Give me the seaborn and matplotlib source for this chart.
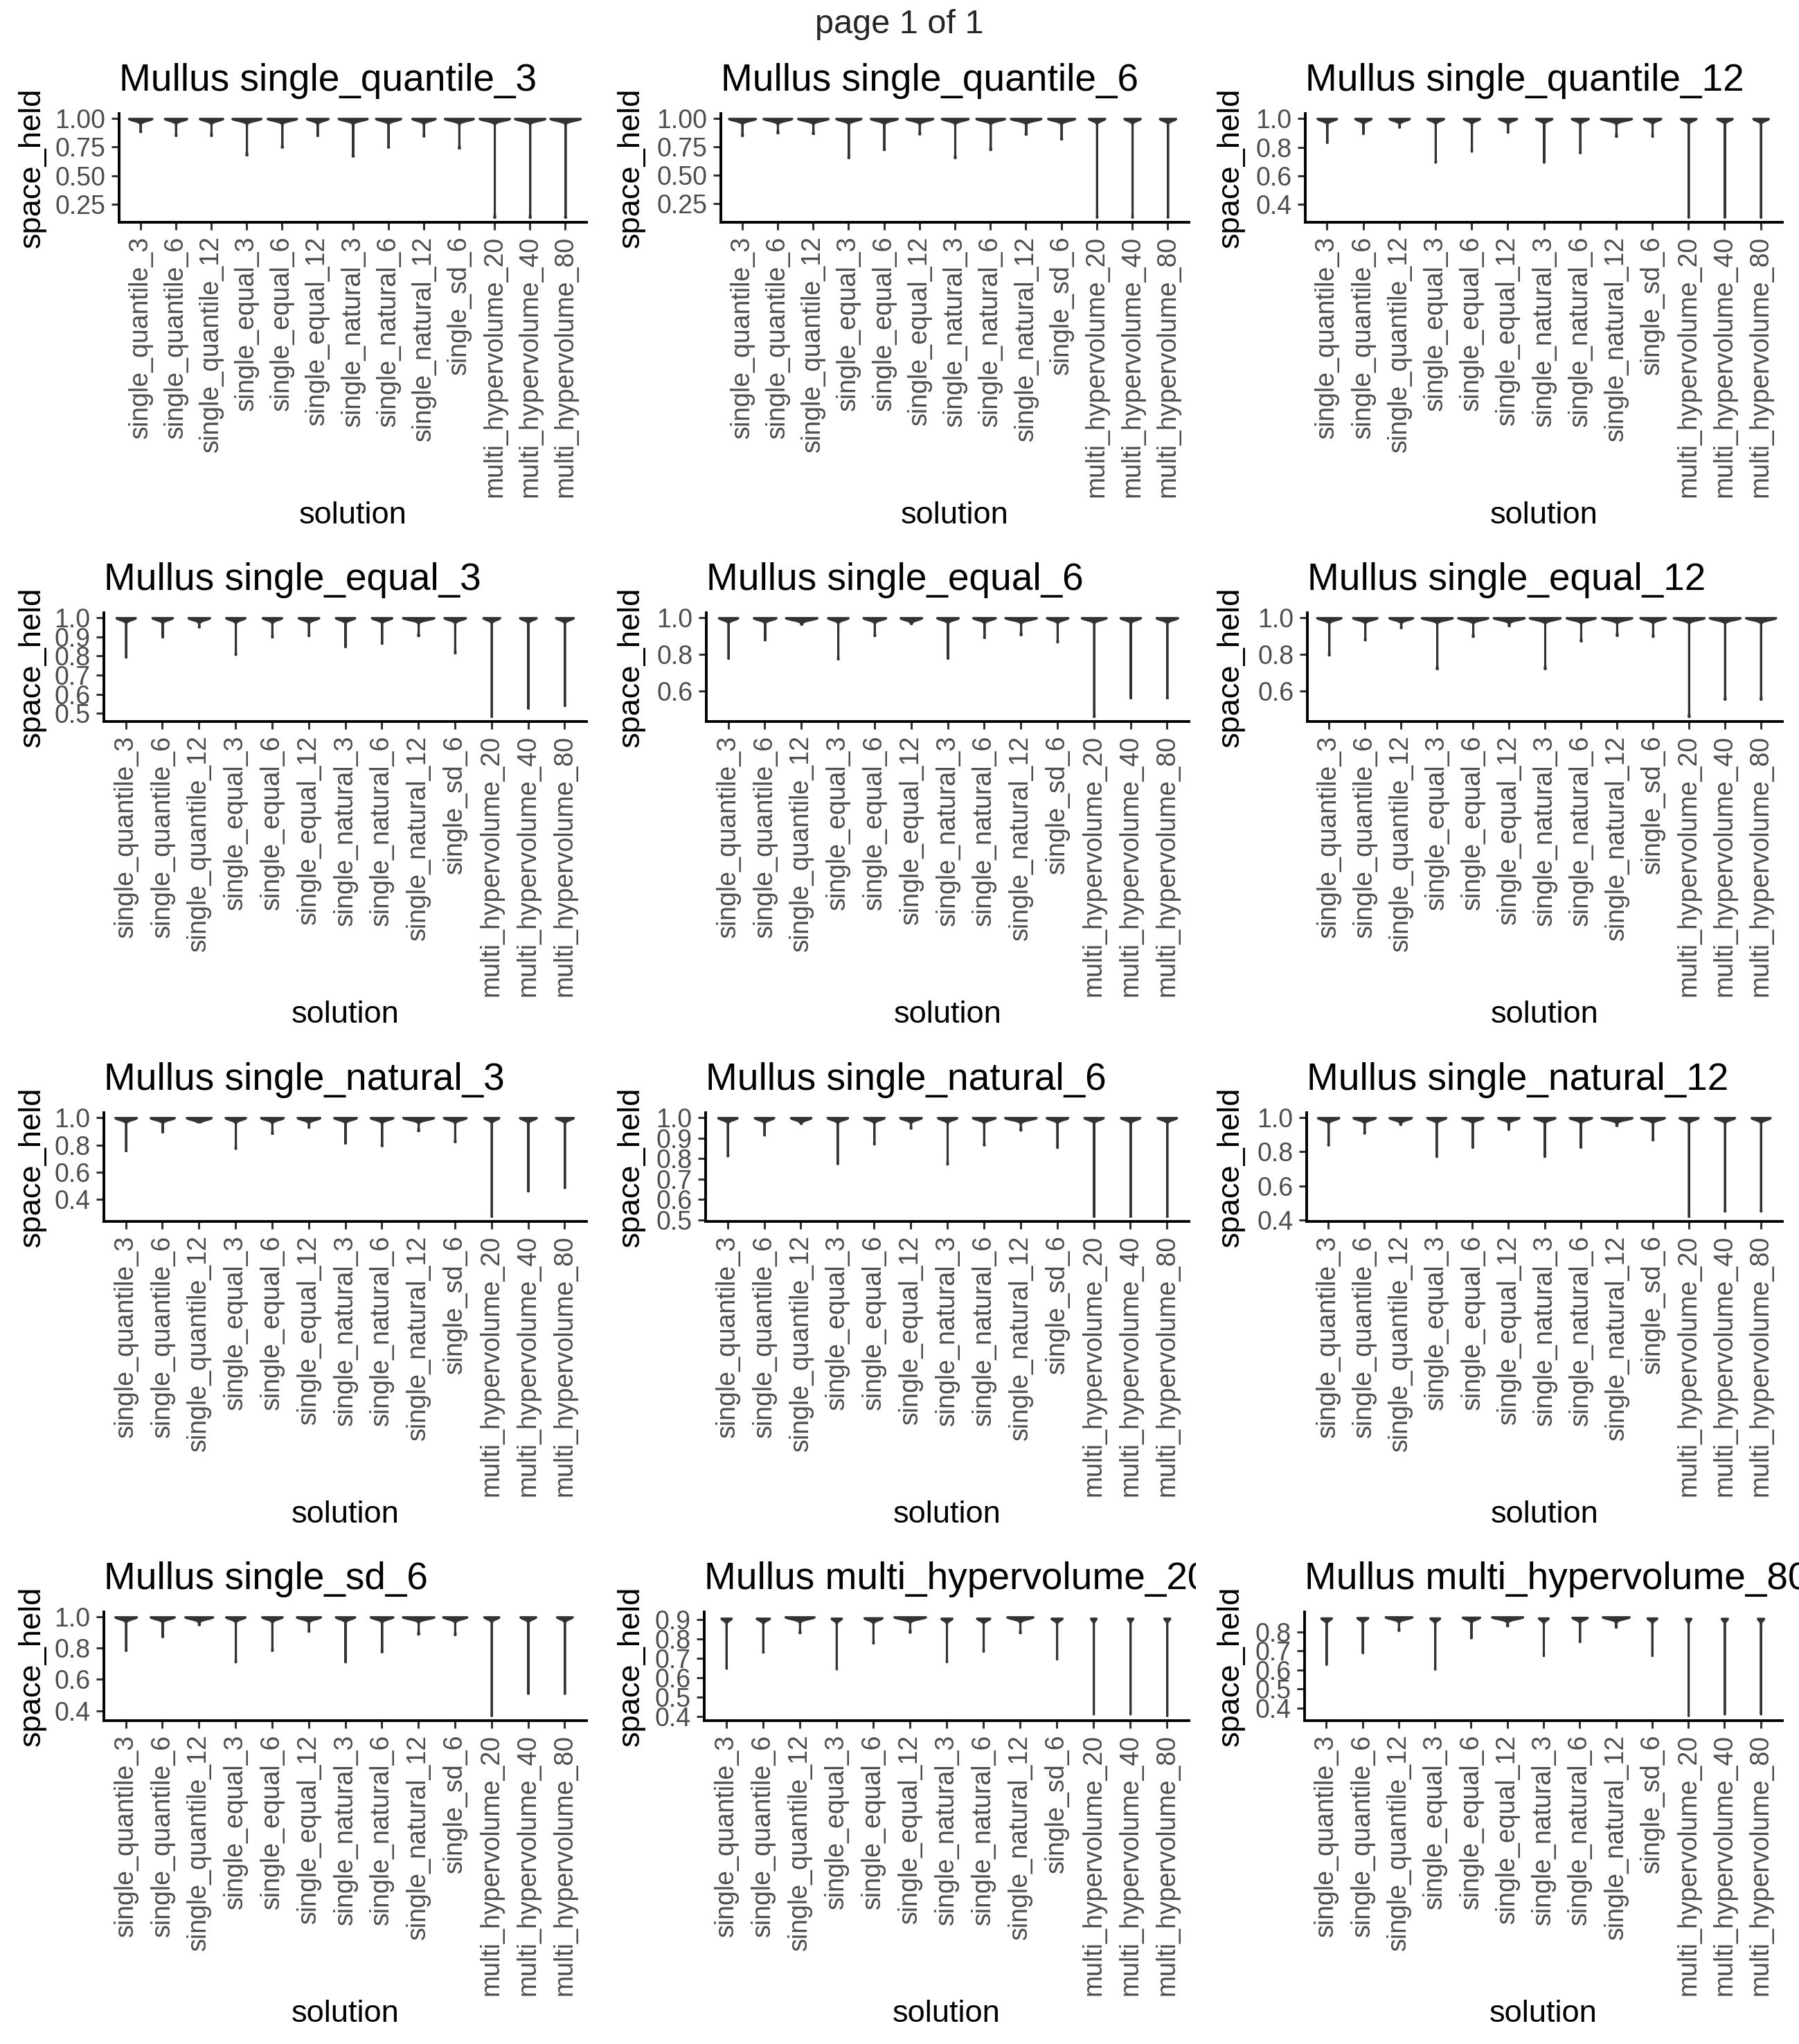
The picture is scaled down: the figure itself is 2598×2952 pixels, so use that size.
import numpy as np
import matplotlib
matplotlib.use("Agg")
import matplotlib.pyplot as plt
from matplotlib.patches import Rectangle
import seaborn as sns

# categories on every x axis
solutions = ["single_quantile_3", "single_quantile_6", "single_quantile_12",
             "single_equal_3", "single_equal_6", "single_equal_12",
             "single_natural_3", "single_natural_6", "single_natural_12",
             "single_sd_6", "multi_hypervolume_20", "multi_hypervolume_40",
             "multi_hypervolume_80"]

titles = ["Mullus single_quantile_3", "Mullus single_quantile_6", "Mullus single_quantile_12",
          "Mullus single_equal_3", "Mullus single_equal_6", "Mullus single_equal_12",
          "Mullus single_natural_3", "Mullus single_natural_6", "Mullus single_natural_12",
          "Mullus single_sd_6", "Mullus multi_hypervolume_20", "Mullus multi_hypervolume_80"]

# upper end of each violin (where most of the mass sits)
ones = [1.0] * 13
top_hv20 = [0.905, 0.905, 0.912, 0.905, 0.907, 0.912, 0.905, 0.905, 0.912, 0.905, 0.905, 0.905, 0.905]
top_hv80 = [0.872, 0.874, 0.878, 0.872, 0.876, 0.878, 0.872, 0.875, 0.878, 0.872, 0.870, 0.870, 0.870]
tops = [ones] * 10 + [top_hv20, top_hv80]

# lower end of each violin tail
low_q3 = [0.884, 0.850, 0.850, 0.680, 0.748, 0.850, 0.670, 0.748, 0.845, 0.740, 0.134, 0.134, 0.134]
low_q6 = [0.849, 0.873, 0.867, 0.655, 0.726, 0.863, 0.655, 0.726, 0.861, 0.819, 0.131, 0.131, 0.131]
low_q12 = [0.832, 0.894, 0.939, 0.694, 0.771, 0.904, 0.694, 0.760, 0.875, 0.875, 0.310, 0.310, 0.310]
low_e3 = [0.794, 0.899, 0.951, 0.808, 0.899, 0.906, 0.848, 0.866, 0.906, 0.816, 0.484, 0.527, 0.541]
low_e6 = [0.779, 0.879, 0.964, 0.775, 0.902, 0.967, 0.779, 0.892, 0.907, 0.868, 0.462, 0.563, 0.563]
low_e12 = [0.797, 0.879, 0.945, 0.722, 0.898, 0.956, 0.722, 0.873, 0.903, 0.898, 0.462, 0.556, 0.556]
low_n3 = [0.757, 0.895, 0.968, 0.774, 0.884, 0.929, 0.813, 0.794, 0.904, 0.823, 0.276, 0.462, 0.487]
low_n6 = [0.813, 0.915, 0.971, 0.775, 0.871, 0.948, 0.773, 0.866, 0.939, 0.854, 0.517, 0.517, 0.517]
low_n12 = [0.839, 0.909, 0.959, 0.772, 0.826, 0.931, 0.772, 0.826, 0.953, 0.869, 0.420, 0.451, 0.451]
low_sd6 = [0.785, 0.873, 0.949, 0.712, 0.785, 0.908, 0.712, 0.776, 0.890, 0.886, 0.368, 0.510, 0.510]
low_hv20 = [0.647, 0.730, 0.830, 0.644, 0.777, 0.833, 0.681, 0.735, 0.830, 0.695, 0.412, 0.412, 0.404]
low_hv80 = [0.629, 0.690, 0.807, 0.604, 0.768, 0.831, 0.675, 0.748, 0.824, 0.675, 0.361, 0.369, 0.369]
lows = [low_q3, low_q6, low_q12, low_e3, low_e6, low_e12,
        low_n3, low_n6, low_n12, low_sd6, low_hv20, low_hv80]

# widest part of each violin, as a share of the category slot
wid_q3 = [0.70, 0.67, 0.70, 0.86, 0.87, 0.65, 0.86, 0.75, 0.70, 0.86, 0.90, 0.90, 0.90]
wid_q6 = [0.80, 0.85, 0.90, 0.75, 0.80, 0.80, 0.80, 0.85, 0.90, 0.80, 0.50, 0.50, 0.50]
wid_q12 = [0.58, 0.49, 0.60, 0.50, 0.49, 0.54, 0.49, 0.51, 0.90, 0.52, 0.47, 0.47, 0.47]
wid_e3 = [0.57, 0.60, 0.63, 0.57, 0.57, 0.60, 0.57, 0.60, 0.90, 0.63, 0.50, 0.50, 0.53]
wid_e6 = [0.57, 0.66, 0.90, 0.60, 0.66, 0.63, 0.63, 0.66, 0.90, 0.63, 0.72, 0.60, 0.63]
wid_e12 = [0.72, 0.72, 0.70, 0.90, 0.88, 0.90, 0.90, 0.85, 0.88, 0.75, 0.90, 0.90, 0.88]
wid_n3 = [0.63, 0.70, 0.72, 0.60, 0.66, 0.66, 0.66, 0.66, 0.88, 0.66, 0.45, 0.50, 0.53]
wid_n6 = [0.57, 0.57, 0.60, 0.60, 0.60, 0.63, 0.57, 0.66, 0.90, 0.63, 0.57, 0.57, 0.57]
wid_n12 = [0.63, 0.66, 0.66, 0.57, 0.63, 0.63, 0.63, 0.66, 0.90, 0.70, 0.57, 0.60, 0.57]
wid_sd6 = [0.63, 0.70, 0.80, 0.57, 0.60, 0.70, 0.57, 0.66, 0.90, 0.70, 0.45, 0.47, 0.47]
wid_hv20 = [0.32, 0.40, 0.83, 0.32, 0.53, 0.90, 0.34, 0.40, 0.75, 0.34, 0.19, 0.19, 0.20]
wid_hv80 = [0.33, 0.34, 0.78, 0.31, 0.52, 0.90, 0.31, 0.46, 0.78, 0.31, 0.19, 0.21, 0.21]
widths = [wid_q3, wid_q6, wid_q12, wid_e3, wid_e6, wid_e12,
          wid_n3, wid_n6, wid_n12, wid_sd6, wid_hv20, wid_hv80]

# y tick labels of each panel
ticks_2dp = ["0.25", "0.50", "0.75", "1.00"]
ticks_04 = ["0.4", "0.6", "0.8", "1.0"]
ticks_05 = ["0.5", "0.6", "0.7", "0.8", "0.9", "1.0"]
ticks_06 = ["0.6", "0.8", "1.0"]
yticks = [ticks_2dp, ticks_2dp, ticks_04, ticks_05, ticks_06, ticks_06,
          ticks_04, ticks_05, ticks_04, ticks_04,
          ["0.4", "0.5", "0.6", "0.7", "0.8", "0.9"],
          ["0.4", "0.5", "0.6", "0.7", "0.8"]]

sns.set_style("ticks")
plt.rcParams["font.family"] = ["Liberation Sans", "DejaVu Sans"]

W, H = 2598, 2952
DPI = 200
fig = plt.figure(figsize=(W / DPI, H / DPI), dpi=DPI)

# panel geometry in pixels
lefts = [172, 1041, 1885, 150, 1020, 1888, 150, 1019, 1887, 150, 1017, 1884]
rights = [847, 1717, 2574]
row_tops = [164, 885, 1607, 2328]
panel_h = 157
ylab_x = [46, 911, 1777]

VIOLIN = "#333333"
N_TOP = 30

for i, title in enumerate(titles):
    r, c = divmod(i, 3)
    left, right, top = lefts[i], rights[c], row_tops[r]
    ax = fig.add_axes([left / W, 1 - (top + panel_h) / H, (right - left) / W, panel_h / H])

    hi = max(tops[i])
    lo = min(lows[i])
    span = hi - lo
    h = 0.02 * span

    for j, sol in enumerate(solutions):
        obs = np.array([tops[i][j]] * N_TOP + [lows[i][j]])
        bw = h / np.std(obs, ddof=1)
        sns.violinplot(x=[sol] * len(obs), y=obs, order=solutions,
                       width=widths[i][j] - 0.04, density_norm="width", cut=0,
                       inner=None, bw_method=bw, gridsize=300,
                       color=VIOLIN, linecolor=VIOLIN, linewidth=1.1,
                       saturation=1, ax=ax)

    ax.set_xlim(-0.6, len(solutions) - 0.4)
    ax.set_ylim(lo - 0.05 * span, hi + 0.05 * span)
    ax.set_xticks(range(len(solutions)))
    ax.set_xticklabels(solutions, rotation=90)
    ax.set_yticks([float(t) for t in yticks[i]])
    ax.set_yticklabels(yticks[i])

    sns.despine(ax=ax)
    for side in ["left", "bottom"]:
        ax.spines[side].set_linewidth(1.4)
        ax.spines[side].set_color("black")
    ax.tick_params(axis="both", length=4, width=1.1, color=VIOLIN,
                   labelsize=13.5, labelcolor="#4D4D4D", pad=3)

    ax.set_xlabel("solution", fontsize=16.3, color="black")
    ax.xaxis.set_label_coords(0.5, -403 / panel_h)
    ax.set_ylabel("space_held", fontsize=16.3, color="black")
    ax.yaxis.set_label_coords((ylab_x[c] - left) / (right - left), 0.5)
    ax.yaxis.label.set_verticalalignment("center")

    ax.set_title(title, loc="left", fontsize=19.8, pad=12, color="black")

# the middle column's last title runs past its grid cell and is cut there
fig.add_artist(Rectangle((1727 / W, 1 - 2318 / H), 34 / W, 80 / H,
                         transform=fig.transFigure, facecolor="white",
                         edgecolor="none", zorder=10))

fig.text(0.5, 1 - 36 / H, "page 1 of 1", ha="center", va="center", fontsize=17.5)

fig.savefig("out.png", dpi=DPI)
